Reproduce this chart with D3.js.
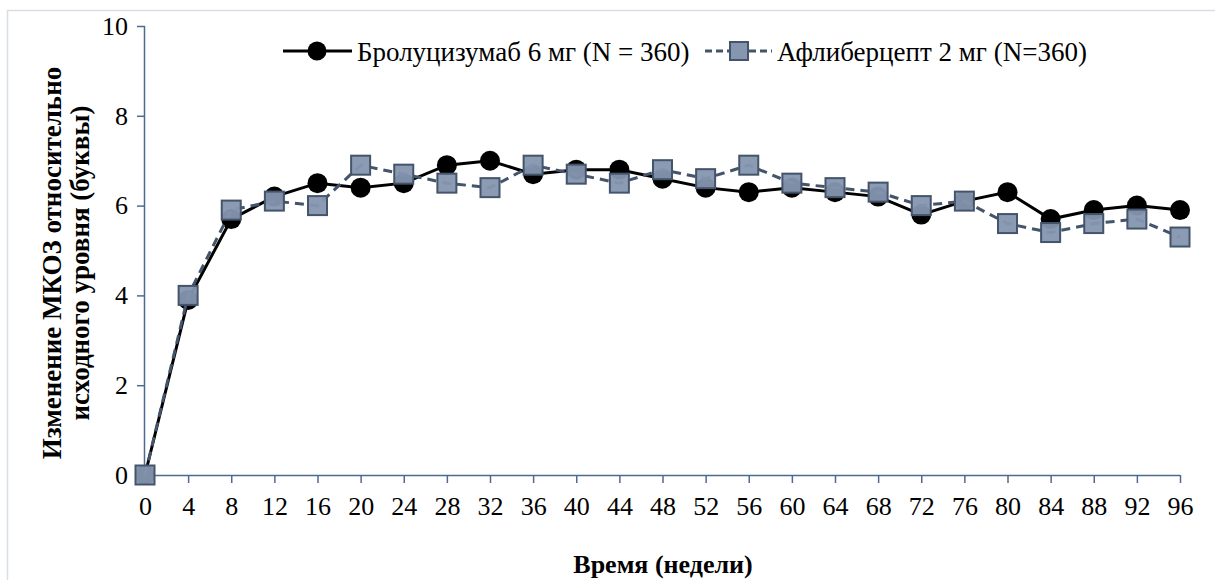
<!DOCTYPE html>
<html>
<head>
<meta charset="utf-8">
<script src="https://cdn.jsdelivr.net/npm/d3@7"></script>
<style>
  body { margin: 0; background: #fff; }
  svg text { font-family: "Liberation Serif", "DejaVu Serif", serif; fill: #000; }
</style>
</head>
<body>
<div id="graph"></div>
<script>
var weeks = [0,4,8,12,16,20,24,28,32,36,40,44,48,52,56,60,64,68,72,76,80,84,88,92,96];
var brolucizumab = [0,3.9,5.7,6.2,6.5,6.4,6.5,6.9,7.0,6.7,6.8,6.8,6.6,6.4,6.3,6.4,6.3,6.2,5.8,6.1,6.3,5.7,5.9,6.0,5.9];
var aflibercept = [0,4.0,5.9,6.1,6.0,6.9,6.7,6.5,6.4,6.9,6.7,6.5,6.8,6.6,6.9,6.5,6.4,6.3,6.0,6.1,5.6,5.4,5.6,5.7,5.3];
var yTicks = [0,2,4,6,8,10];
var seriesNames = ["Бролуцизумаб 6 мг (N = 360)", "Афлиберцепт 2 мг (N=360)"];
var xTitle = "Время (недели)";
var yTitle = ["Изменение МКОЗ относительно", "исходного уровня (буквы)"];

var W = 1215, H = 580;
var margin = {top: 26, right: 35, bottom: 105, left: 145};
var width = W - margin.left - margin.right,
    height = H - margin.top - margin.bottom;
var axisColor = "#4f6a90";
var serif = "'Liberation Serif', 'DejaVu Serif', serif";

var svg = d3.select("#graph").append("svg")
  .attr("width", W).attr("height", H);

// chart border
svg.append("rect")
  .attr("x", 7.5).attr("y", 10.5)
  .attr("width", 1300).attr("height", 700)
  .attr("fill", "none").attr("stroke", "#d9dee6").attr("stroke-width", 1.5);

var g = svg.append("g")
  .attr("transform", "translate(" + margin.left + "," + margin.top + ")");

var x = d3.scaleLinear().domain([0, 96]).range([0, width]);
var y = d3.scaleLinear().domain([0, 10]).range([height, 0]);

var xAxis = d3.axisBottom(x).tickValues(weeks).tickSize(8).tickPadding(14);
var yAxis = d3.axisLeft(y).tickValues(yTicks).tickSize(8).tickPadding(9);

var gx = g.append("g").attr("transform", "translate(0," + height + ")").call(xAxis);
var gy = g.append("g").call(yAxis);
[gx, gy].forEach(function(a){
  a.attr("font-family", serif).attr("font-size", 26);
  a.select(".domain").attr("stroke", axisColor).attr("stroke-width", 1.5);
  a.selectAll(".tick line").attr("stroke", axisColor).attr("stroke-width", 1.5);
  a.selectAll(".tick text").attr("fill", "#000");
});
gx.select(".domain").attr("d", "M0,0.5H" + width);
gy.select(".domain").attr("d", "M-0.5," + height + "V0");
gx.selectAll(".tick text").attr("dy", "0.68em");

// axis titles
svg.append("text")
  .attr("x", 663).attr("y", 573)
  .attr("text-anchor", "middle")
  .attr("font-family", serif).attr("font-size", 26).attr("font-weight", "bold")
  .text(xTitle);

yTitle.forEach(function(t, i){
  svg.append("text")
    .attr("transform", "translate(" + (61 + i * 28) + ",263) rotate(-90)")
    .attr("text-anchor", "middle")
    .attr("font-family", serif).attr("font-size", 27).attr("font-weight", "bold")
    .text(t);
});

var dataB = weeks.map(function(w, i){ return {w: w, v: brolucizumab[i]}; });
var dataA = weeks.map(function(w, i){ return {w: w, v: aflibercept[i]}; });
var line = d3.line().x(function(d){ return x(d.w); }).y(function(d){ return y(d.v); });

// brolucizumab
g.append("path").datum(dataB)
  .attr("d", line).attr("fill", "none")
  .attr("stroke", "#000").attr("stroke-width", 3);
g.selectAll(".dotB").data(dataB).enter().append("circle")
  .attr("class", "dotB")
  .attr("cx", function(d){ return x(d.w); })
  .attr("cy", function(d){ return y(d.v); })
  .attr("r", 10).attr("fill", "#000");

// aflibercept
var sq = 19;
g.append("path").datum(dataA)
  .attr("d", line).attr("fill", "none")
  .attr("stroke", "#44546a").attr("stroke-width", 3)
  .attr("stroke-dasharray", "9,6");
g.selectAll(".dotA").data(dataA).enter().append("rect")
  .attr("class", "dotA")
  .attr("x", function(d){ return x(d.w) - sq / 2; })
  .attr("y", function(d){ return y(d.v) - sq / 2; })
  .attr("width", sq).attr("height", sq)
  .attr("fill", "#8696b0").attr("stroke", "#44546a").attr("stroke-width", 2)
  .attr("fill-opacity", 0.95);

// legend
var leg = svg.append("g").attr("transform", "translate(0,51)")
  .attr("font-family", serif).attr("font-size", 27);
leg.append("line").attr("x1", 283).attr("x2", 352).attr("y1", 0).attr("y2", 0)
  .attr("stroke", "#000").attr("stroke-width", 3);
leg.append("circle").attr("cx", 317).attr("cy", 0).attr("r", 9.5).attr("fill", "#000");
leg.append("text").attr("x", 357).attr("y", 10).text(seriesNames[0]);

leg.append("line").attr("x1", 705).attr("x2", 772).attr("y1", 0).attr("y2", 0)
  .attr("stroke", "#44546a").attr("stroke-width", 3).attr("stroke-dasharray", "7,4");
leg.append("rect").attr("x", 730).attr("y", -9).attr("width", 18).attr("height", 18)
  .attr("fill", "#8696b0").attr("stroke", "#44546a").attr("stroke-width", 2);
leg.append("text").attr("x", 777).attr("y", 10).text(seriesNames[1]);
</script>
</body>
</html>
